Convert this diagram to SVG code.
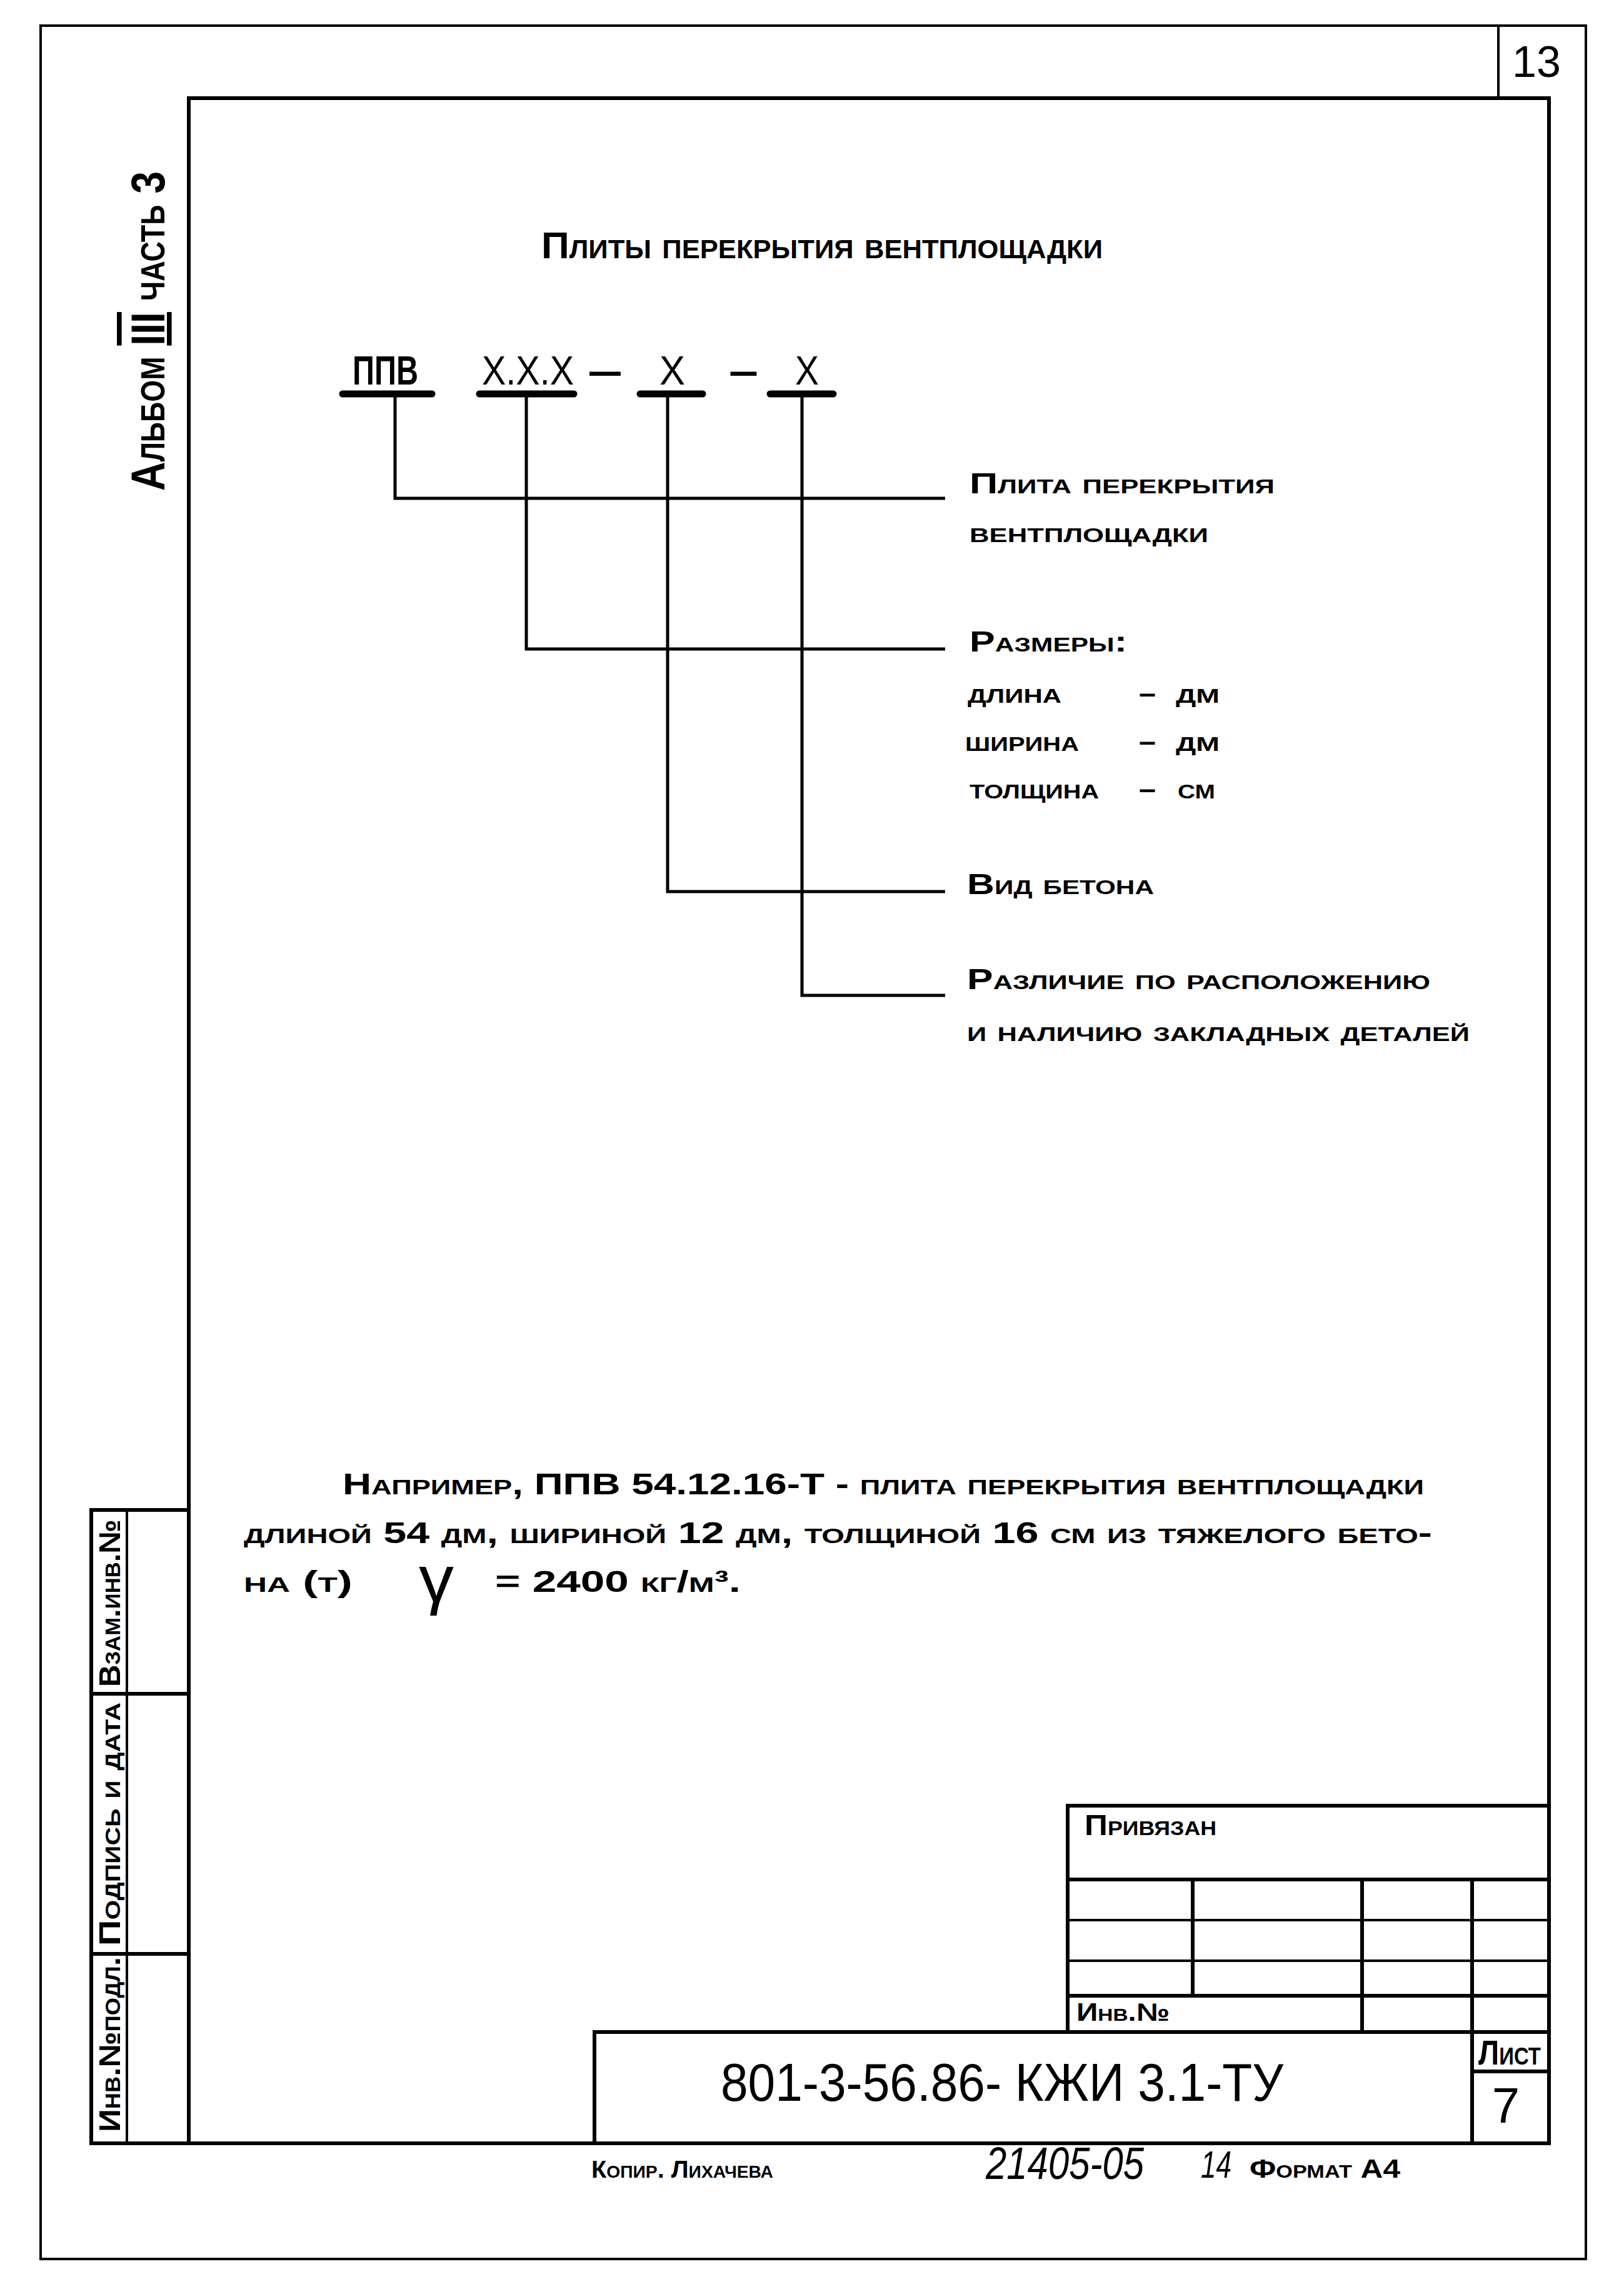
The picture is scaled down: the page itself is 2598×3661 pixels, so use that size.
<svg xmlns="http://www.w3.org/2000/svg" width="2598" height="3661" viewBox="0 0 2598 3661">
<style>
.t{font-family:"Liberation Sans","DejaVu Sans",sans-serif;fill:#000;font-weight:bold}
.n{font-weight:normal}
.sc{font-variant:small-caps}
.ln{stroke:#000;fill:none;stroke-linecap:square}
.thin{stroke-width:4}
.thk{stroke-width:6}
.bar{stroke:#000;stroke-width:11;stroke-linecap:round}
.con{stroke:#000;stroke-width:5;fill:none}
</style>
<rect width="2598" height="3661" fill="#fff"/>
<g id="frame">
<rect class="ln thin" x="65" y="41" width="2472" height="3572"/>
<rect class="ln thk" x="302" y="157" width="2176" height="3271"/>
<line class="ln thin" x1="2397" y1="41" x2="2397" y2="157"/>
<text class="t n" x="2458" y="123" font-size="70" text-anchor="middle">13</text>
</g>
<g id="side-label">
<text class="t sc" font-size="76" transform="translate(263,785) rotate(-90)" textLength="511" lengthAdjust="spacingAndGlyphs">Альбом <tspan text-decoration="overline underline">III</tspan> часть 3</text>
</g>
<g id="side-table">
<rect class="ln thk" x="146" y="2415" width="156" height="1013"/>
<line class="ln thin" x1="203" y1="2415" x2="203" y2="3428"/>
<line class="ln thk" x1="146" y1="2709" x2="302" y2="2709"/>
<line class="ln thk" x1="146" y1="3125" x2="302" y2="3125"/>
<text class="t sc" font-size="48" transform="translate(192,2698) rotate(-90)" textLength="268" lengthAdjust="spacingAndGlyphs">Взам.инв.№</text>
<text class="t sc" font-size="48" transform="translate(192,3112) rotate(-90)" textLength="389" lengthAdjust="spacingAndGlyphs">Подпись и дата</text>
<text class="t sc" font-size="48" transform="translate(192,3410) rotate(-90)" textLength="280" lengthAdjust="spacingAndGlyphs">Инв.№подл.</text>
</g>
<g id="title">
<text class="t sc" x="866" y="413" font-size="60" textLength="898" lengthAdjust="spacingAndGlyphs">Плиты перекрытия вентплощадки</text>
</g>
<g id="code">
<g id="seg-ppv">
<text class="t" x="564" y="615" font-size="64" textLength="105" lengthAdjust="spacingAndGlyphs">ППВ</text>
<line class="bar" x1="548" y1="630" x2="691" y2="630"/>
</g>
<g id="seg-size">
<text class="t n" x="771" y="615" font-size="64" textLength="147" lengthAdjust="spacingAndGlyphs">Х.Х.Х</text>
<line class="bar" x1="767" y1="630" x2="918" y2="630"/>
</g>
<text class="t" x="940" y="615" font-size="64" textLength="56" lengthAdjust="spacingAndGlyphs">–</text>
<g id="seg-concrete">
<text class="t n" x="1055" y="615" font-size="64" textLength="41" lengthAdjust="spacingAndGlyphs">Х</text>
<line class="bar" x1="1024" y1="630" x2="1124" y2="630"/>
</g>
<text class="t" x="1166" y="615" font-size="64" textLength="47" lengthAdjust="spacingAndGlyphs">–</text>
<g id="seg-parts">
<text class="t n" x="1272" y="615" font-size="64" textLength="38" lengthAdjust="spacingAndGlyphs">Х</text>
<line class="bar" x1="1232" y1="630" x2="1333" y2="630"/>
</g>
</g>
<g id="connectors">
<polyline class="con" points="632,630 632,797 1512,797"/>
<polyline class="con" points="842,630 842,1038 1512,1038"/>
<polyline class="con" points="1068,630 1068,1426 1512,1426"/>
<polyline class="con" points="1283,630 1283,1592 1512,1592"/>
</g>
<g id="label-plate">
<text class="t sc" x="1551" y="789" font-size="46" textLength="488" lengthAdjust="spacingAndGlyphs">Плита перекрытия</text>
<text class="t sc" x="1551" y="867" font-size="46" textLength="382" lengthAdjust="spacingAndGlyphs">вентплощадки</text>
</g>
<g id="label-size">
<text class="t sc" x="1551" y="1042" font-size="46" textLength="252" lengthAdjust="spacingAndGlyphs">Размеры:</text>
<text class="t sc" x="1548" y="1124" font-size="46" textLength="150" lengthAdjust="spacingAndGlyphs">длина</text>
<text class="t" x="1822" y="1124" font-size="46" textLength="27" lengthAdjust="spacingAndGlyphs">–</text>
<text class="t sc" x="1881" y="1124" font-size="46" textLength="70" lengthAdjust="spacingAndGlyphs">дм</text>
<text class="t sc" x="1544" y="1201" font-size="46" textLength="182" lengthAdjust="spacingAndGlyphs">ширина</text>
<text class="t" x="1822" y="1201" font-size="46" textLength="27" lengthAdjust="spacingAndGlyphs">–</text>
<text class="t sc" x="1881" y="1201" font-size="46" textLength="70" lengthAdjust="spacingAndGlyphs">дм</text>
<text class="t sc" x="1551" y="1277" font-size="46" textLength="207" lengthAdjust="spacingAndGlyphs">толщина</text>
<text class="t" x="1822" y="1277" font-size="46" textLength="27" lengthAdjust="spacingAndGlyphs">–</text>
<text class="t sc" x="1884" y="1277" font-size="46" textLength="60" lengthAdjust="spacingAndGlyphs">см</text>
</g>
<g id="label-concrete">
<text class="t sc" x="1547" y="1430" font-size="46" textLength="299" lengthAdjust="spacingAndGlyphs">Вид бетона</text>
</g>
<g id="label-parts">
<text class="t sc" x="1547" y="1582" font-size="46" textLength="741" lengthAdjust="spacingAndGlyphs">Различие по расположению</text>
<text class="t sc" x="1547" y="1665" font-size="46" textLength="804" lengthAdjust="spacingAndGlyphs">и наличию закладных деталей</text>
</g>
<g id="example">
<text class="t sc" x="548" y="2390" font-size="48" textLength="1730" lengthAdjust="spacingAndGlyphs">Например, ППВ 54.12.16-Т - плита перекрытия вентплощадки</text>
<text class="t sc" x="390" y="2468" font-size="48" textLength="1901" lengthAdjust="spacingAndGlyphs">длиной  54 дм, шириной 12 дм, толщиной 16 см из тяжелого бето-</text>
<text class="t sc" x="390" y="2546" font-size="48" textLength="174" lengthAdjust="spacingAndGlyphs">на (т)</text>
<text class="t n" x="670" y="2562" font-size="105" textLength="56" lengthAdjust="spacingAndGlyphs">γ</text>
<text class="t sc" x="792" y="2546" font-size="48" textLength="393" lengthAdjust="spacingAndGlyphs">= 2400 кг/м³.</text>
</g>
<g id="stamp">
<rect class="ln thk" x="951" y="3250" width="1527" height="178"/>
<polyline class="ln thk" points="1708,3250 1708,2888 2478,2888"/>
<line class="ln thk" x1="1708" y1="3006" x2="2478" y2="3006"/>
<line class="ln thin" x1="1708" y1="3071" x2="2478" y2="3071"/>
<line class="ln thin" x1="1708" y1="3136" x2="2478" y2="3136"/>
<line class="ln thk" x1="1708" y1="3192" x2="2478" y2="3192"/>
<line class="ln thk" x1="1908" y1="3006" x2="1908" y2="3192"/>
<line class="ln thk" x1="2179" y1="3006" x2="2179" y2="3250"/>
<line class="ln thk" x1="2355" y1="3006" x2="2355" y2="3428"/>
<line class="ln thk" x1="2355" y1="3313" x2="2478" y2="3313"/>
<text class="t sc" x="1735" y="2935" font-size="46" textLength="211" lengthAdjust="spacingAndGlyphs">Привязан</text>
<text class="t sc" x="1722" y="3232" font-size="40" textLength="149" lengthAdjust="spacingAndGlyphs">Инв.№</text>
<text class="t n" x="1153" y="3360" font-size="86" textLength="900" lengthAdjust="spacingAndGlyphs">801-3-56.86- КЖИ 3.1-ТУ</text>
<text class="t sc" x="2365" y="3302" font-size="56" textLength="100" lengthAdjust="spacingAndGlyphs">Лист</text>
<text class="t n" x="2409" y="3395" font-size="80" text-anchor="middle">7</text>
</g>
<g id="footer">
<text class="t sc" x="946" y="3483" font-size="38" textLength="291" lengthAdjust="spacingAndGlyphs">Копир. Лихачева</text>
<text class="t n" x="1577" y="3485" font-size="72" font-style="italic" textLength="253" lengthAdjust="spacingAndGlyphs">21405-05</text>
<text class="t n" x="1921" y="3483" font-size="62" font-style="italic" textLength="49" lengthAdjust="spacingAndGlyphs">14</text>
<text class="t sc" x="1999" y="3483" font-size="42" textLength="241" lengthAdjust="spacingAndGlyphs">Формат А4</text>
</g>
</svg>
